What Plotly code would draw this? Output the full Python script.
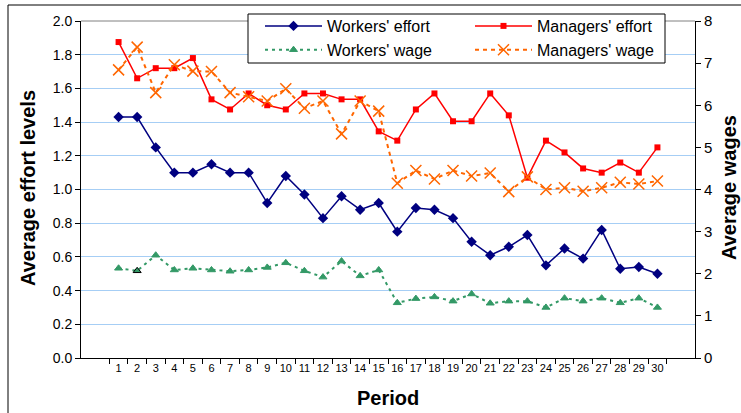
import plotly.graph_objects as go

periods = [str(i) for i in range(1, 31)]

workers_effort = [1.43, 1.43, 1.25, 1.10, 1.10, 1.15, 1.10, 1.10, 0.92, 1.08,
                  0.97, 0.83, 0.96, 0.88, 0.92, 0.75, 0.89, 0.88, 0.83, 0.69,
                  0.61, 0.66, 0.73, 0.55, 0.65, 0.59, 0.76, 0.53, 0.54, 0.50]
managers_effort = [1.875, 1.66, 1.72, 1.72, 1.78, 1.535, 1.475, 1.57, 1.50, 1.475,
                   1.57, 1.57, 1.535, 1.535, 1.345, 1.29, 1.475, 1.57, 1.405, 1.405,
                   1.57, 1.44, 1.07, 1.29, 1.22, 1.125, 1.10, 1.16, 1.10, 1.25]
workers_wage = [2.13, 2.07, 2.44, 2.09, 2.13, 2.09, 2.06, 2.09, 2.15, 2.26,
                2.07, 1.92, 2.30, 1.95, 2.09, 1.31, 1.41, 1.45, 1.35, 1.52,
                1.30, 1.35, 1.35, 1.20, 1.42, 1.35, 1.42, 1.31, 1.42, 1.20]
managers_wage = [6.84, 7.38, 6.30, 6.96, 6.81, 6.80, 6.30, 6.20, 6.10, 6.39,
                 5.93, 6.10, 5.32, 6.10, 5.86, 4.15, 4.45, 4.25, 4.45, 4.32,
                 4.39, 3.95, 4.30, 4.00, 4.04, 3.96, 4.04, 4.17, 4.13, 4.20]

left_ticks = [0.0, 0.2, 0.4, 0.6, 0.8, 1.0, 1.2, 1.4, 1.6, 1.8, 2.0]
right_ticks = [0, 1, 2, 3, 4, 5, 6, 7, 8]

FONT = "Liberation Sans, Arial, sans-serif"
NAVY = "#000080"
RED = "#FF0000"
GREEN = "#339966"
ORANGE = "#FF6600"

fig = go.Figure()

fig.add_trace(go.Scatter(
    x=periods, y=managers_wage, name="Managers' wage", yaxis="y2",
    mode="lines+markers",
    line=dict(color=ORANGE, width=2, dash="4px,4px"),
    marker=dict(symbol="x-thin-open", size=11, color=ORANGE, line=dict(color=ORANGE, width=1.5)),
    legend="legend2",
))
fig.add_trace(go.Scatter(
    x=periods, y=workers_wage, name="Workers' wage", yaxis="y2",
    mode="lines+markers",
    line=dict(color=GREEN, width=2, dash="3px,4px"),
    marker=dict(symbol="triangle-up", size=7, color=GREEN,
                line=dict(color=[GREEN if i != 1 else "black" for i in range(30)], width=1)),
    legend="legend",
))
fig.add_trace(go.Scatter(
    x=periods, y=managers_effort, name="Managers' effort",
    mode="lines+markers",
    line=dict(color=RED, width=1.5),
    marker=dict(symbol="square", size=6, color=RED),
    legend="legend2",
))
fig.add_trace(go.Scatter(
    x=periods, y=workers_effort, name="Workers' effort",
    mode="lines+markers",
    line=dict(color=NAVY, width=1.5),
    marker=dict(symbol="diamond", size=8, color=NAVY),
    legend="legend",
))

W, H = 741, 413
L, R, T, B = 81, 46, 21, 55
PW, PH = W - L - R, H - T - B


def px(xp):
    return (xp - L) / PW


def py(yp):
    return (H - B - yp) / PH


legend_common = dict(
    orientation="v", xanchor="left", yanchor="top",
    bgcolor="rgba(0,0,0,0)", borderwidth=0,
    font=dict(family=FONT, size=16, color="black"),
    itemwidth=57, traceorder="reversed",
)

fig.update_layout(
    width=W, height=H,
    margin=dict(l=L, r=R, t=T, b=B, pad=0, autoexpand=False),
    paper_bgcolor="white", plot_bgcolor="white",
    font=dict(family=FONT, color="black"),
    showlegend=True,
    legend=dict(x=px(260), y=py(9), **legend_common),
    legend2=dict(x=px(470), y=py(9), **legend_common),
    xaxis=dict(
        type="category", tickson="boundaries", ticks="outside", ticklen=5,
        tickcolor="black", showline=True, linecolor="black", linewidth=1,
        showgrid=False, zeroline=False, tickangle=0, automargin=False,
        tickfont=dict(family=FONT, size=11, color="black"),
    ),
    yaxis=dict(
        range=[0, 2], tickvals=left_ticks, tickformat=".1f",
        ticks="outside", ticklen=5, tickcolor="black", automargin=False,
        showline=True, linecolor="black", linewidth=1,
        showgrid=True, gridcolor="#A6CEF5", gridwidth=1, zeroline=False,
        tickfont=dict(family=FONT, size=14, color="black"),
    ),
    yaxis2=dict(
        range=[0, 8], tickvals=right_ticks, overlaying="y", side="right",
        ticks="outside", ticklen=5, tickcolor="black", automargin=False,
        showline=True, linecolor="black", linewidth=1,
        showgrid=False, zeroline=False,
        tickfont=dict(family=FONT, size=15, color="black"),
    ),
    shapes=[
        dict(type="rect", xref="paper", yref="paper", x0=px(8), x1=1.3, y0=-0.3, y1=py(5),
             line=dict(color="black", width=1), fillcolor="rgba(0,0,0,0)", layer="below"),
        dict(type="line", xref="paper", yref="paper", x0=0, x1=1, y0=1, y1=1,
             line=dict(color="#808080", width=1)),
        dict(type="rect", xref="paper", yref="paper", x0=px(248), x1=px(665), y0=py(63), y1=py(14),
             line=dict(color="black", width=1), fillcolor="white", layer="above"),
    ],
    annotations=[
        dict(text="<b>Average effort levels</b>", xref="paper", yref="paper",
             x=px(28), y=py(188), xanchor="center", yanchor="middle", textangle=-90,
             showarrow=False, font=dict(family=FONT, size=20, color="black")),
        dict(text="<b>Average wages</b>", xref="paper", yref="paper",
             x=px(729), y=py(188), xanchor="center", yanchor="middle", textangle=-90,
             showarrow=False, font=dict(family=FONT, size=20, color="black")),
        dict(text="<b>Period</b>", xref="paper", yref="paper",
             x=px(388), y=py(398), xanchor="center", yanchor="middle",
             showarrow=False, font=dict(family=FONT, size=20, color="black")),
    ],
)

fig.write_html(
    "out.html",
    config={"displayModeBar": False},
    post_script="document.body.style.margin='0';document.body.style.overflow='hidden';",
)
